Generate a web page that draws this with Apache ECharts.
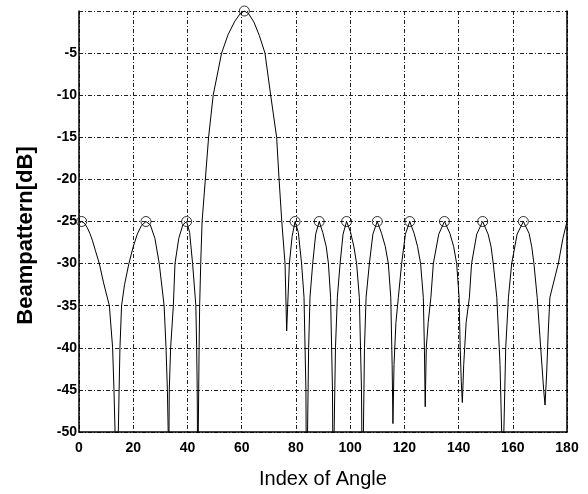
<!DOCTYPE html>
<html>
<head>
<meta charset="utf-8">
<script src="https://cdn.jsdelivr.net/npm/echarts@6/dist/echarts.min.js"></script>
<style>
html,body{margin:0;padding:0;background:#fff;}
#chart{width:588px;height:494px;}
</style>
</head>
<body>
<div id="chart"></div>
<script>
// Beampattern curve: angle index and level in dB
const angleIdx = [
  0, 1, 2, 3, 4, 5, 6, 7.5, 9, 11.2, 12.4, 12.9, 13.3, 13.9,
  14.5, 14.8, 15.1, 15.7, 16.8, 18.4, 20, 21.5, 23, 24.7, 26.3, 28, 29.6, 31.4, 32.1, 32.6, 32.9, 33.05,
  33.2, 33.3, 33.8, 34.8, 35.4, 36.8, 38.3, 39.7, 40.8, 41.9, 43.1, 43.4, 43.6, 43.8,
  44, 44.3, 44.5, 44.9, 45.4, 46.6, 47.8, 49.5, 52.6, 55, 57.5, 59.5, 61, 62.5, 64.5, 66.5, 68.6, 70.7, 72.9, 73.8, 74.8, 76, 76.6,
  77.6, 78.6, 79.7, 80.9, 82.1, 83, 83.7, 84,
  84.3, 84.7, 85.2, 86.2, 87.3, 88.6, 89.9, 91.2, 92, 92.8, 93.5, 93.8,
  94.1, 94.6, 95.3, 96.3, 97.4, 98.7, 100.1, 101.4, 102.4, 103.4, 104.2, 104.6,
  104.9, 105.3, 105.9, 107.1, 108.4, 110, 111.6, 113, 114.1, 115, 115.5, 115.8,
  116.2, 116.9, 117.8, 119, 120.4, 122, 123.6, 124.9, 126, 127, 127.4, 127.7,
  128.1, 128.8, 129.8, 130.7, 132.7, 134.8, 136.8, 138.2, 139.3, 140.2, 140.6, 141, 141.4,
  141.9, 142.8, 144, 144.8, 146.7, 148.9, 150.9, 152, 152.8, 154.1, 155.3, 155.9, 156.3,
  156.7, 157.4, 158.4, 159.6, 161.6, 163.9, 166, 167, 167.8, 169, 170.3, 171.4, 171.9,
  172.5, 173.1, 173.7, 176.8, 178.5, 180
];
const beamDb = [
  -25.2, -25, -25.2, -25.7, -26.4, -27.3, -28.4, -30, -32.2, -35, -40, -45, -50, -62,
  -50, -45, -40, -35, -32.5, -30, -28, -26.5, -25.5, -25, -25.4, -27, -30, -35, -40, -45, -50, -62,
  -50, -45, -40, -35, -30, -27, -25.4, -25, -26.3, -30, -35, -40, -45, -56,
  -50, -40, -35, -30, -25, -20, -15, -10, -5, -2.8, -1.2, -0.3, 0, -0.3, -1.3, -2.9, -5, -10, -15, -20, -25, -30, -38,
  -30, -26.8, -25, -26.3, -30, -34, -45, -62,
  -50, -40, -34, -30, -26.5, -25, -26.3, -28, -30, -34, -45, -62,
  -50, -40, -34, -30, -26.5, -25, -26.2, -28, -30, -34, -45, -62,
  -50, -40, -34, -30, -26.5, -25, -26.4, -28, -30, -34, -42, -49,
  -42, -37, -34, -30, -26.5, -25, -26.4, -28, -30, -34, -40, -47,
  -40, -37, -34, -30, -26.5, -25, -26.4, -28, -30, -34, -40, -44, -46.5,
  -42, -37, -34, -30, -26.5, -25, -26.5, -28, -30, -34, -42, -50, -62,
  -50, -40, -34, -30, -26.5, -25, -26.4, -28, -30, -34, -40, -45, -46.8,
  -43, -38, -34, -30, -27, -25
];
// Circled lobe peaks
const peakIdx = [1, 24.7, 39.7, 61, 79.7, 88.6, 98.7, 110, 122, 134.8, 148.9, 163.9];
const peakDb  = [-25, -25, -25, 0, -25, -25, -25, -25, -25, -25, -25, -25];

const xName = 'Index of Angle';
const yName = 'Beampattern[dB]';

const curve = angleIdx.map((x, i) => [x, beamDb[i]]);
const peaks = peakIdx.map((x, i) => [x, peakDb[i]]);

const gridLine = { show: true, lineStyle: { color: '#222', width: 1, type: [4, 2, 1, 2] } };
const labelFont = { color: '#000', fontFamily: 'Liberation Sans, Arial, sans-serif', fontWeight: 'bold', fontSize: 14 };

const chart = echarts.init(document.getElementById('chart'), null, { renderer: 'canvas' });
chart.setOption({
  animation: false,
  backgroundColor: '#fff',
  grid: { left: 79, right: 21, top: 11, bottom: 60, containLabel: false },
  xAxis: {
    type: 'value', min: 0, max: 180, interval: 20,
    name: xName, nameLocation: 'middle', nameGap: 37,
    nameTextStyle: { color: '#000', fontFamily: 'Liberation Sans, Arial, sans-serif', fontSize: 20 },
    axisLine: { show: true, onZero: false, lineStyle: { color: '#000', width: 1.5 } },
    axisTick: { show: false },
    axisLabel: Object.assign({ margin: 9 }, labelFont),
    splitLine: gridLine
  },
  yAxis: [{
    type: 'value', min: -50, max: 0, interval: 5,
    name: yName, nameLocation: 'middle', nameGap: 42, nameRotate: 90,
    nameTextStyle: { color: '#000', fontFamily: 'Liberation Sans, Arial, sans-serif', fontWeight: 'bold', fontSize: 22, padding: [0, 28, 0, 0] },
    axisLine: { show: true, onZero: false, lineStyle: { color: '#000', width: 1.5 } },
    axisTick: { show: false },
    axisLabel: Object.assign({ margin: 2, formatter: v => (v === 0 ? '' : String(v)) }, labelFont),
    splitLine: gridLine
  }, {
    type: 'value', min: -50, max: 0, interval: 5, position: 'right',
    axisLine: { show: true, onZero: false, lineStyle: { color: '#000', width: 1.5 } },
    axisTick: { show: false }, axisLabel: { show: false }, splitLine: { show: false }
  }],
  series: [{
    type: 'line', data: curve, showSymbol: false, symbol: 'none',
    lineStyle: { color: '#000', width: 1 }, clip: true, z: 3
  }, {
    type: 'scatter', data: peaks, symbol: 'circle', symbolSize: 10, clip: false,
    itemStyle: { color: 'rgba(0,0,0,0)', borderColor: '#000', borderWidth: 1 }, z: 4
  }]
});
</script>
</body>
</html>
